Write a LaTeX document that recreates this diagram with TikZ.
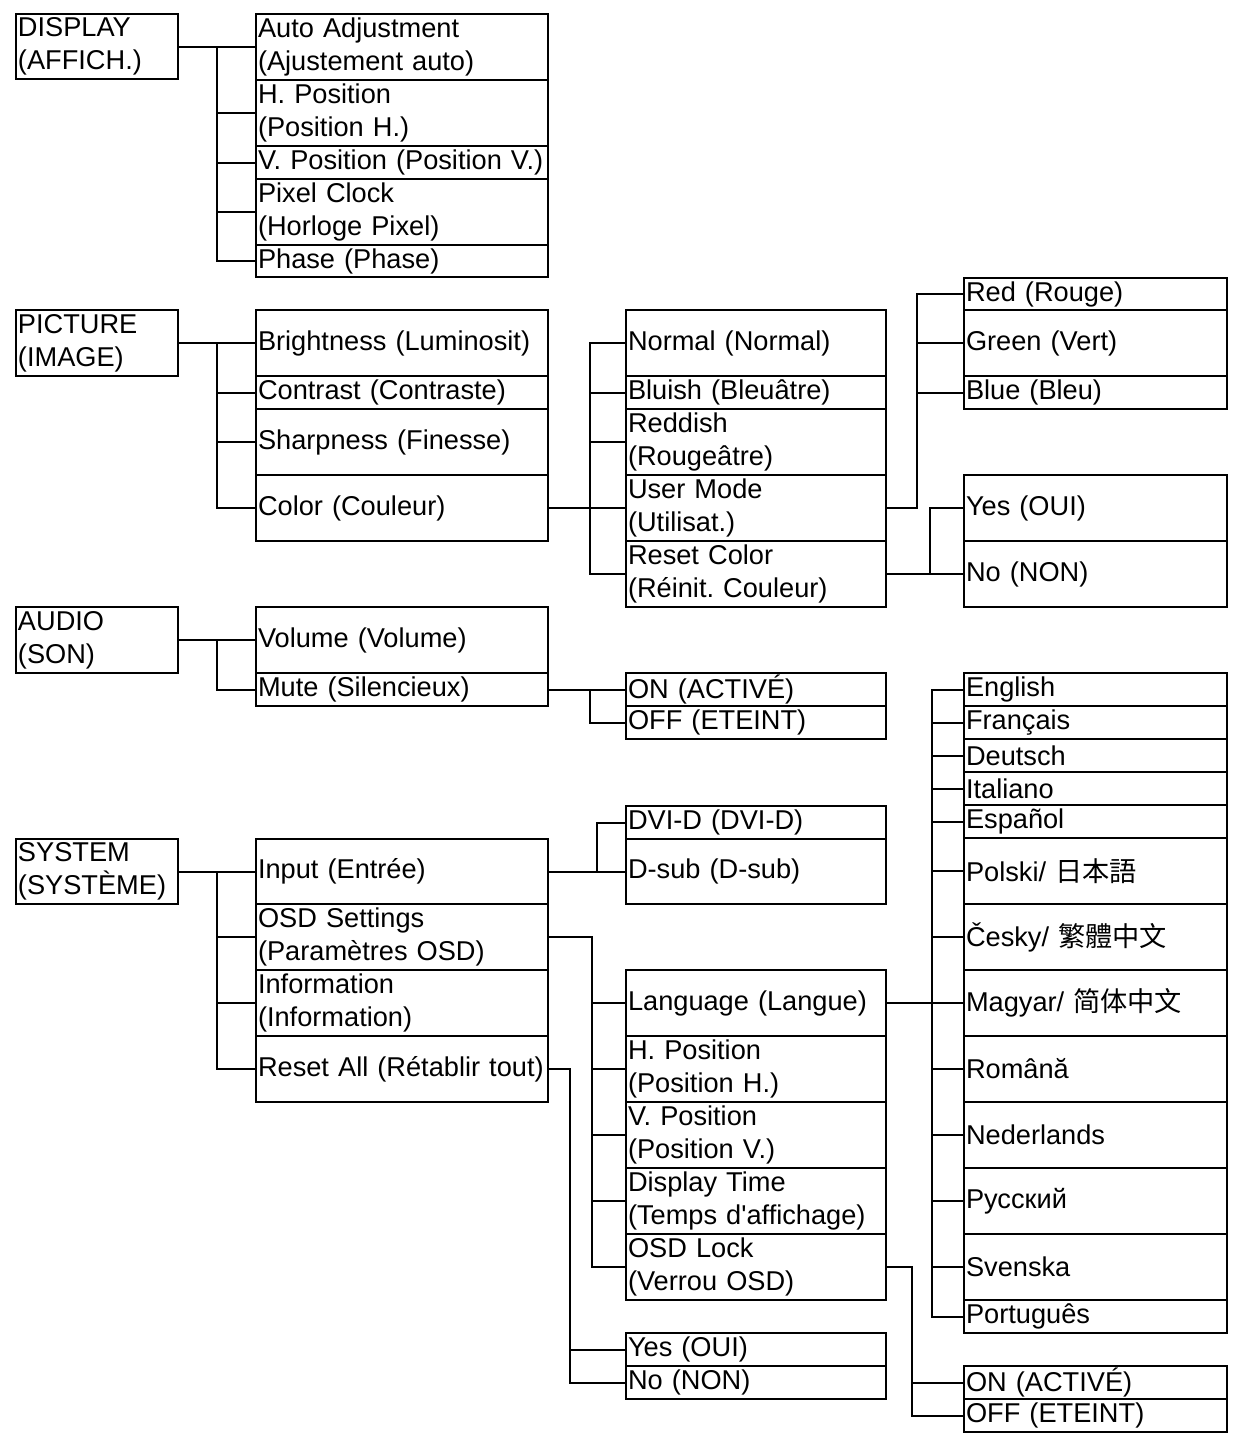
\documentclass[tikz,border=0pt]{standalone}
\usepackage{fontspec}
\setmainfont{Liberation Sans}
\newfontfamily\cjk{Noto Sans CJK SC}
\newfontfamily\cjktc{Noto Sans CJK TC}
\newfontfamily\cjkjp{Noto Sans CJK JP}
\usetikzlibrary{positioning}
\frenchspacing

% name, x, y, w, h (pixels), text
\newcommand{\menuitem}[6]{%
  \pgfmathsetlengthmacro{\tw}{#4*0.5pt-2pt}%
  \node[item, minimum width=#4*0.5pt, minimum height=#5*0.5pt,
        text width=\tw, anchor=north west] (#1) at (#2,#3) {#6};}

\tikzset{
  item/.style={draw, line width=1pt, inner xsep=1pt, inner ysep=0pt,
    align=left, font=\fontsize{13.6}{16.5}\selectfont},
  link/.style={line width=1pt}
}

\begin{document}
\begin{tikzpicture}[x=0.5pt,y=-0.5pt]
  \useasboundingbox (0,0) rectangle (1237,1440);

  % top level
  \menuitem{disp}{15}{13}{162}{65}{DISPLAY\\(AFFICH.)}
  \menuitem{pict}{15}{309}{162}{66}{PICTURE\\(IMAGE)}
  \menuitem{audio}{15}{606}{162}{66}{AUDIO\\(SON)}
  \menuitem{sys}{15}{838}{162}{65}{SYSTEM\\(SYSTÈME)}

  % display
  \menuitem{auto}{255}{13}{292}{66}{Auto Adjustment\\(Ajustement auto)}
  \menuitem{hpos}{255}{79}{292}{66}{H. Position\\(Position H.)}
  \menuitem{vpos}{255}{145}{292}{33}{V. Position (Position V.)}
  \menuitem{clock}{255}{178}{292}{66}{Pixel Clock\\(Horloge Pixel)}
  \menuitem{phase}{255}{244}{292}{32}{Phase (Phase)}
  \foreach \t in {auto,hpos,vpos,clock,phase}
    \draw[link] (disp.east) -- ++(38,0) |- (\t.west);

  % picture
  \menuitem{bright}{255}{309}{292}{66}{Brightness (Luminosit)}
  \menuitem{contr}{255}{375}{292}{33}{Contrast (Contraste)}
  \menuitem{sharp}{255}{408}{292}{66}{Sharpness (Finesse)}
  \menuitem{color}{255}{474}{292}{66}{Color (Couleur)}
  \foreach \t in {bright,contr,sharp,color}
    \draw[link] (pict.east) -- ++(38,0) |- (\t.west);

  \menuitem{normal}{625}{309}{260}{66}{Normal (Normal)}
  \menuitem{bluish}{625}{375}{260}{33}{Bluish (Bleuâtre)}
  \menuitem{reddish}{625}{408}{260}{66}{Reddish\\(Rougeâtre)}
  \menuitem{user}{625}{474}{260}{66}{User Mode\\(Utilisat.)}
  \menuitem{rcolor}{625}{540}{260}{66}{Reset Color\\(Réinit. Couleur)}
  \foreach \t in {normal,bluish,reddish,user,rcolor}
    \draw[link] (color.east) -- ++(41,0) |- (\t.west);

  \menuitem{red}{963}{277}{263}{32}{Red (Rouge)}
  \menuitem{green}{963}{309}{263}{66}{Green (Vert)}
  \menuitem{blue}{963}{375}{263}{33}{Blue (Bleu)}
  \foreach \t in {red,green,blue}
    \draw[link] (user.east) -- ++(30,0) |- (\t.west);

  \menuitem{cyes}{963}{474}{263}{66}{Yes (OUI)}
  \menuitem{cno}{963}{540}{263}{66}{No (NON)}
  \foreach \t in {cyes,cno}
    \draw[link] (rcolor.east) -- ++(43,0) |- (\t.west);

  % audio
  \menuitem{volume}{255}{606}{292}{66}{Volume (Volume)}
  \menuitem{mute}{255}{672}{292}{33}{Mute (Silencieux)}
  \foreach \t in {volume,mute}
    \draw[link] (audio.east) -- ++(38,0) |- (\t.west);

  \menuitem{mon}{625}{672}{260}{33}{ON (ACTIVÉ)}
  \menuitem{moff}{625}{705}{260}{33}{OFF (ETEINT)}
  \foreach \t in {mon,moff}
    \draw[link] (mute.east) -- ++(41,0) |- (\t.west);

  % system
  \menuitem{input}{255}{838}{292}{65}{Input (Entrée)}
  \menuitem{osd}{255}{903}{292}{66}{OSD Settings\\(Paramètres OSD)}
  \menuitem{info}{255}{969}{292}{66}{Information\\(Information)}
  \menuitem{resetall}{255}{1035}{292}{66}{Reset All (Rétablir tout)}
  \foreach \t in {input,osd,info,resetall}
    \draw[link] (sys.east) -- ++(38,0) |- (\t.west);

  \menuitem{dvi}{625}{805}{260}{33}{DVI-D (DVI-D)}
  \menuitem{dsub}{625}{838}{260}{65}{D-sub (D-sub)}
  \foreach \t in {dvi,dsub}
    \draw[link] (input.east) -- ++(48,0) |- (\t.west);

  \menuitem{lang}{625}{969}{260}{66}{Language (Langue)}
  \menuitem{ohpos}{625}{1035}{260}{66}{H. Position\\(Position H.)}
  \menuitem{ovpos}{625}{1101}{260}{66}{V. Position\\(Position V.)}
  \menuitem{dtime}{625}{1167}{260}{66}{Display Time\\(Temps d\textquotesingle affichage)}
  \menuitem{lock}{625}{1233}{260}{66}{OSD Lock\\(Verrou OSD)}
  \foreach \t in {lang,ohpos,ovpos,dtime,lock}
    \draw[link] (osd.east) -- ++(43,0) |- (\t.west);

  \menuitem{ryes}{625}{1332}{260}{33}{Yes (OUI)}
  \menuitem{rno}{625}{1365}{260}{33}{No (NON)}
  \foreach \t in {ryes,rno}
    \draw[link] (resetall.east) -- ++(21,0) |- (\t.west);

  \menuitem{lon}{963}{1365}{263}{33}{ON (ACTIVÉ)}
  \menuitem{loff}{963}{1398}{263}{33}{OFF (ETEINT)}
  \foreach \t in {lon,loff}
    \draw[link] (lock.east) -- ++(25,0) |- (\t.west);

  % languages
  \menuitem{l1}{963}{672}{263}{33}{English}
  \menuitem{l2}{963}{705}{263}{33}{Français}
  \menuitem{l3}{963}{738}{263}{33}{Deutsch}
  \menuitem{l4}{963}{771}{263}{33}{Italiano}
  \menuitem{l5}{963}{804}{263}{33}{Español}
  \menuitem{l6}{963}{837}{263}{66}{Polski/ {\cjkjp 日本語}}
  \menuitem{l7}{963}{903}{263}{66}{Česky/ {\cjktc 繁體中文}}
  \menuitem{l8}{963}{969}{263}{66}{Magyar/ {\cjk 简体中文}}
  \menuitem{l9}{963}{1035}{263}{66}{Română}
  \menuitem{l10}{963}{1101}{263}{66}{Nederlands}
  \menuitem{l11}{963}{1167}{263}{66}{Русский}
  \menuitem{l12}{963}{1233}{263}{66}{Svenska}
  \menuitem{l13}{963}{1299}{263}{33}{Português}
  \foreach \i in {1,...,13}
    \draw[link] (lang.east) -- ++(45,0) |- (l\i.west);
\end{tikzpicture}
\end{document}
